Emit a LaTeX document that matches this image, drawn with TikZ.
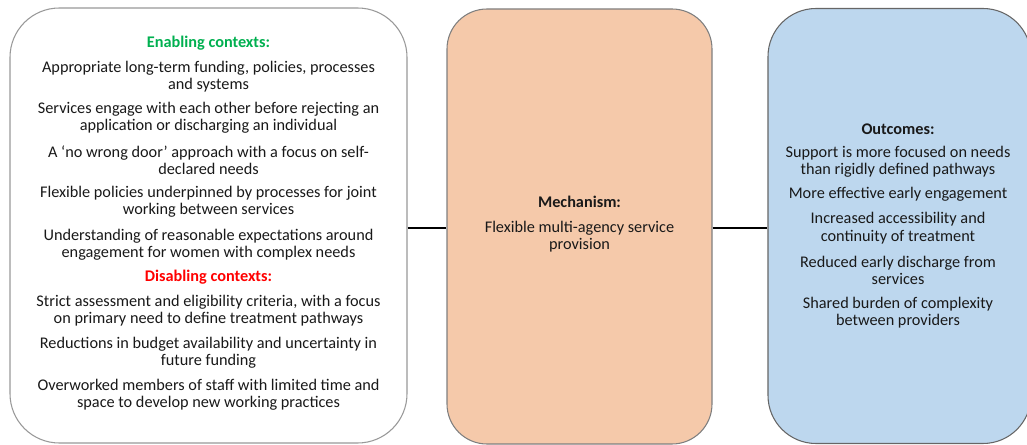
\documentclass[tikz,border=0pt]{standalone}
\usepackage{fontspec}
\setmainfont{Carlito}
\definecolor{peach}{HTML}{F5C9AA}
\definecolor{paleblue}{HTML}{BDD7EE}
\definecolor{enablegreen}{HTML}{00B050}
\definecolor{disablered}{HTML}{FF0000}
\definecolor{edgegray}{HTML}{7F7F7F}
\begin{document}
\begin{tikzpicture}[x=0.75pt,y=-0.75pt,
  panel/.style={draw=edgegray, line width=0.8pt, inner sep=0pt},
  txt/.style={align=center, inner sep=0pt, font=\fontsize{12.2pt}{13.1pt}\selectfont, text=black!90},
  head/.style={txt, font=\fontsize{12.2pt}{13.1pt}\selectfont\bfseries},
  link/.style={draw=black, line width=1.5pt}]
\useasboundingbox (0,0) rectangle (1027,445);
% panels
\node[panel, draw=black!40, fill=white, rounded corners=37pt, minimum width=297.75pt, minimum height=326.25pt] (ctx) at (208.5,225.5) {};
\node[panel, fill=peach, rounded corners=30pt, minimum width=198.75pt, minimum height=326.25pt] (mech) at (579.5,226.5) {};
\node[panel, draw=black!60, fill=paleblue, rounded corners=36pt, minimum width=197.25pt, minimum height=326.25pt] (out) at (899.5,226) {};
% connectors
\draw[link] (ctx.east |- 0,228) -- (mech.west |- 0,228);
\draw[link] (mech.east |- 0,228) -- (out.west |- 0,228);
% left text
\node[head, text=enablegreen] (enh) at (208.5,43) {Enabling contexts:};
\node[txt] (e1) at (208.5,76.5) {Appropriate long-term funding, policies, processes\\and systems};
\node[txt] (e2) at (208.5,118) {Services engage with each other before rejecting an\\application or discharging an individual};
\node[txt] (e3) at (208.5,160) {A ‘no wrong door’ approach with a focus on self-\\declared needs};
\node[txt] (e4) at (208.5,202) {Flexible policies underpinned by processes for joint\\working between services};
\node[txt] (e5) at (208.5,244.5) {Understanding of reasonable expectations around\\engagement for women with complex needs};
\node[head, text=disablered] (dh) at (208.5,277) {Disabling contexts:};
\node[txt] (d1) at (208.5,310.5) {Strict assessment and eligibility criteria, with a focus\\on primary need to define treatment pathways};
\node[txt] (d2) at (208.5,353) {Reductions in budget availability and uncertainty in\\future funding};
\node[txt] (d3) at (208.5,395) {Overworked members of staff with limited time and\\space to develop new working practices};
% middle text
\node[head] (mh) at (579.5,202) {Mechanism:};
\node[txt] (m1) at (579.5,236.5) {Flexible multi-agency service\\provision};
% right text
\node[head] (oh) at (898,129) {Outcomes:};
\node[txt] (o1) at (898,161.5) {Support is more focused on needs\\than rigidly defined pathways};
\node[txt] (o2) at (898,194) {More effective early engagement};
\node[txt] (o3) at (898,228) {Increased accessibility and\\continuity of treatment};
\node[txt] (o4) at (898,270.5) {Reduced early discharge from\\services};
\node[txt] (o5) at (898,312.5) {Shared burden of complexity\\between providers};
\end{tikzpicture}
\end{document}
